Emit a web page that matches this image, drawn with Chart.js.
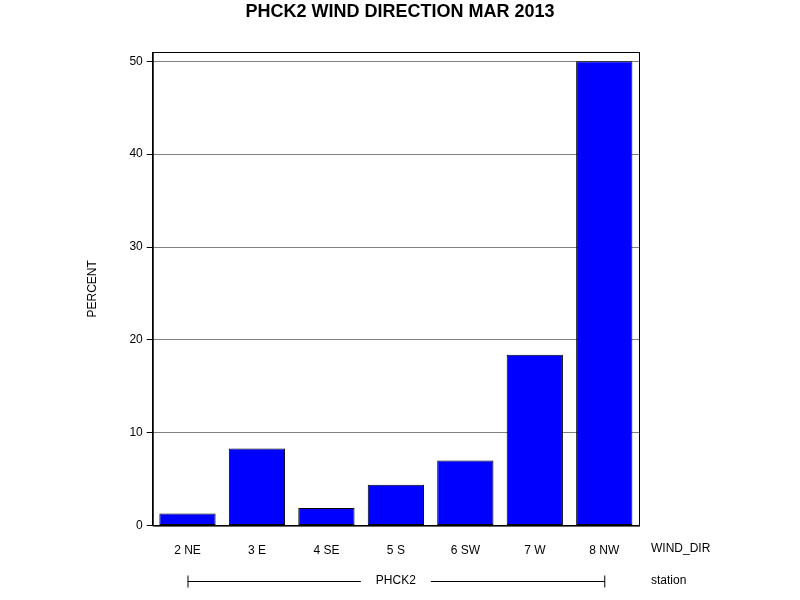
<!DOCTYPE html>
<html><head><meta charset="utf-8">
<script src="https://cdn.jsdelivr.net/npm/chart.js@4"></script>
<style>html,body{margin:0;padding:0;background:#fff}#w{width:800px;height:600px}</style>
</head><body><div id="w"><canvas id="c"></canvas></div>
<script>
const categories = ["2 NE","3 E","4 SE","5 S","6 SW","7 W","8 NW"];
const percentValues = [1.3, 8.3, 1.9, 4.4, 7.0, 18.4, 50.0];
const chartTitle = "PHCK2 WIND DIRECTION MAR 2013";
const stationLabel = "PHCK2";

const extras = {
  id: 'extras',
  afterDraw(chart) {
    const ctx = chart.ctx, a = chart.chartArea, x = chart.scales.x;
    ctx.save();
    ctx.strokeStyle = '#000'; ctx.lineWidth = 1;
    ctx.strokeRect(a.left + 0.5, a.top + 0.5, a.right - a.left, a.bottom - a.top);
    ctx.fillStyle = '#000';
    ctx.textBaseline = 'middle';
    ctx.textAlign = 'center';
    ctx.font = 'bold 18px "Liberation Sans", Arial, sans-serif';
    ctx.fillText(chartTitle, 400, 12);
    ctx.font = '12px "Liberation Sans", Arial, sans-serif';
    ctx.textAlign = 'left';
    ctx.fillText('WIND_DIR', 651, 549);
    ctx.fillText('station', 651, 581);
    const x0 = x.getPixelForValue(0), x1 = x.getPixelForValue(categories.length - 1);
    const y = 581.5, mid = (x0 + x1) / 2;
    ctx.textAlign = 'center';
    ctx.fillText(stationLabel, mid, 581);
    const tw = ctx.measureText(stationLabel).width / 2 + 15;
    ctx.beginPath();
    ctx.moveTo(x0 + 0.5, y); ctx.lineTo(mid - tw, y);
    ctx.moveTo(mid + tw, y); ctx.lineTo(x1 + 0.5, y);
    ctx.moveTo(x0 + 0.5, y - 6); ctx.lineTo(x0 + 0.5, y + 6);
    ctx.moveTo(x1 + 0.5, y - 6); ctx.lineTo(x1 + 0.5, y + 6);
    ctx.stroke();
    ctx.restore();
  }
};

new Chart(document.getElementById('c'), {
  type: 'bar',
  data: { labels: categories, datasets: [{ data: percentValues, backgroundColor: '#0000ff', borderColor: '#000', borderWidth: 1, borderSkipped: false, barPercentage: 0.81, categoryPercentage: 1 }] },
  options: {
    responsive: true, maintainAspectRatio: false, animation: false,
    layout: { padding: { left: 81, right: 161, top: 52, bottom: 24 } },
    plugins: { legend: { display: false }, tooltip: { enabled: false }, title: { display: false } },
    scales: {
      x: { grid: { display: false, drawTicks: false }, border: { color: '#000' },
           ticks: { color: '#000', padding: 18, font: { family: '"Liberation Sans", Arial, sans-serif', size: 12 } } },
      y: { min: 0, max: 51, border: { color: '#000' },
           grid: { color: ctx => ctx.tick.value === 0 ? 'rgba(0,0,0,0)' : '#808080', drawTicks: true, tickLength: 6, tickColor: '#000' },
           afterBuildTicks: s => { s.ticks = [0,10,20,30,40,50].map(v => ({ value: v })); },
           ticks: { color: '#000', padding: 4, font: { family: '"Liberation Sans", Arial, sans-serif', size: 12 } },
           title: { display: true, text: 'PERCENT', color: '#000', padding: { bottom: 26 }, font: { family: '"Liberation Sans", Arial, sans-serif', size: 12 } } }
    }
  },
  plugins: [extras]
});
</script></body></html>
